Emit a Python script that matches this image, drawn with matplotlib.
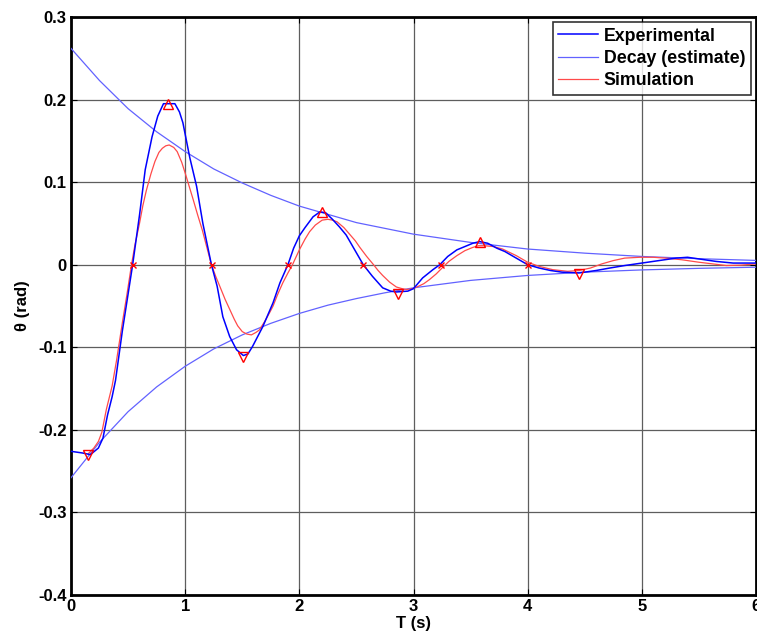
import matplotlib
matplotlib.use("Agg")
import matplotlib.pyplot as plt

# ---- data ----
exp_t = [0.0, 0.1, 0.17, 0.24, 0.28, 0.32, 0.36, 0.39, 0.45, 0.54, 0.6, 0.65, 0.71, 0.76,
         0.81, 0.91, 0.95, 0.98, 1.04, 1.10, 1.155, 1.23, 1.28, 1.33, 1.39, 1.45, 1.51, 1.55,
         1.59, 1.68, 1.77, 1.83, 1.90, 1.95, 2.0, 2.05, 2.12, 2.18, 2.23, 2.29, 2.35, 2.41,
         2.46, 2.56, 2.64, 2.73, 2.8, 2.85, 2.95, 3.0, 3.08, 3.17, 3.23, 3.3, 3.38, 3.45, 3.52,
         3.58, 3.65, 3.73, 3.8, 3.9, 4.0, 4.1, 4.2, 4.3, 4.45, 4.6, 4.72, 4.85, 5.0, 5.15, 5.3,
         5.4, 5.5, 5.65, 5.8, 6.0]
exp_v = [-0.226, -0.228, -0.23, -0.222, -0.21, -0.182, -0.16, -0.14, -0.08, 0.0, 0.06, 0.115,
         0.155, 0.18, 0.195, 0.195, 0.185, 0.172, 0.13, 0.095, 0.05, 0.0, -0.026, -0.063, -0.087,
         -0.103, -0.11, -0.108, -0.099, -0.075, -0.046, -0.022, 0.0, 0.02, 0.035, 0.045, 0.058,
         0.064, 0.063, 0.055, 0.046, 0.036, 0.024, 0.0, -0.014, -0.028, -0.032, -0.033, -0.032,
         -0.029, -0.016, -0.006, 0.0, 0.01, 0.018, 0.022, 0.026, 0.028, 0.026, 0.02, 0.016, 0.008,
         0.0, -0.004, -0.007, -0.009, -0.01, -0.007, -0.004, -0.001, 0.002, 0.005, 0.008, 0.009,
         0.007, 0.004, 0.002, 0.002]

sim_t = [0.15, 0.2, 0.24, 0.27, 0.31, 0.36, 0.4, 0.45, 0.49, 0.53, 0.56, 0.6, 0.63, 0.66, 0.7,
         0.735, 0.77, 0.8, 0.83, 0.86, 0.9, 0.93, 0.97, 1.0, 1.035, 1.07, 1.11, 1.15, 1.19, 1.23,
         1.27, 1.3, 1.35, 1.39, 1.43, 1.46, 1.5, 1.54, 1.58, 1.62, 1.65, 1.7, 1.74, 1.77, 1.81,
         1.855, 1.9, 1.94, 2.0, 2.05, 2.09, 2.14, 2.2, 2.25, 2.29, 2.33, 2.39, 2.44, 2.49, 2.53,
         2.59, 2.65, 2.69, 2.73, 2.79, 2.85, 2.9, 2.94, 2.99, 3.03, 3.09, 3.14, 3.2, 3.25, 3.31,
         3.38, 3.45, 3.52, 3.57, 3.62, 3.7, 3.78, 3.84, 3.9, 3.95, 4.0, 4.1, 4.22, 4.35, 4.45,
         4.55, 4.65, 4.75, 4.85, 4.98, 5.1, 5.21, 5.35, 5.5, 5.62, 5.74, 5.87, 6.0]
sim_v = [-0.229, -0.222, -0.214, -0.203, -0.175, -0.147, -0.115, -0.07, -0.036, 0.0, 0.024,
         0.05, 0.072, 0.09, 0.11, 0.125, 0.136, 0.141, 0.144, 0.145, 0.142, 0.137, 0.124, 0.111,
         0.095, 0.079, 0.06, 0.042, 0.021, 0.0, -0.015, -0.025, -0.042, -0.054, -0.066, -0.074,
         -0.081, -0.084, -0.085, -0.082, -0.079, -0.068, -0.058, -0.05, -0.036, -0.022, -0.01,
         0.0, 0.018, 0.031, 0.04, 0.048, 0.054, 0.055, 0.054, 0.052, 0.045, 0.037, 0.029, 0.021,
         0.01, 0.0, -0.007, -0.013, -0.021, -0.027, -0.029, -0.03, -0.029, -0.027, -0.023,
         -0.018, -0.011, -0.004, 0.004, 0.011, 0.017, 0.021, 0.023, 0.023, 0.022, 0.019, 0.015,
         0.011, 0.007, 0.003, -0.002, -0.006, -0.008, -0.007, -0.004, 0.001, 0.005, 0.008, 0.009,
         0.009, 0.008, 0.006, 0.003, 0.001, -0.001, -0.0005, 0.001]

decay_t = [0.0, 0.25, 0.5, 0.75, 1.0, 1.25, 1.5, 1.75, 2.0, 2.25, 2.5, 2.75, 3.0, 3.5, 4.0, 4.5,
           5.0, 5.5, 6.0]
decay_upper = [0.262, 0.223, 0.189, 0.161, 0.137, 0.116, 0.099, 0.084, 0.071, 0.061, 0.051,
               0.044, 0.037, 0.027, 0.019, 0.014, 0.010, 0.0073, 0.0052]
decay_lower = [-0.258, -0.215, -0.178, -0.148, -0.123, -0.102, -0.085, -0.071, -0.059, -0.049,
               -0.041, -0.034, -0.028, -0.019, -0.013, -0.009, -0.0063, -0.0044, -0.003]

peak_t = [0.85, 2.2, 3.58]
peak_v = [0.195, 0.064, 0.028]
trough_t = [0.15, 1.51, 2.86, 4.45]
trough_v = [-0.230, -0.112, -0.035, -0.011]
zero_t = [0.54, 1.235, 1.90, 2.555, 3.245, 4.0]
zero_v = [0.0, 0.0, 0.0, 0.0, 0.0, 0.0]

x_ticks = [0, 1, 2, 3, 4, 5, 6]
y_ticks = [-0.4, -0.3, -0.2, -0.1, 0, 0.1, 0.2, 0.3]
y_ticklabels = ["-0.4", "-0.3", "-0.2", "-0.1", "0", "0.1", "0.2", "0.3"]

plt.rcParams['font.family'] = ['Liberation Sans', 'DejaVu Sans']
plt.rcParams['font.weight'] = 'bold'

fig = plt.figure(figsize=(7.57, 6.37), dpi=100)
ax = fig.add_axes([71 / 757, 42 / 637, 685 / 757, 578 / 637])

ax.plot(exp_t, exp_v, color='#0000ff', lw=1.1, label='Experimental', zorder=4)
ax.plot(decay_t, decay_upper, color='#6262ff', lw=0.9, label='Decay (estimate)', zorder=3)
ax.plot(decay_t, decay_lower, color='#6262ff', lw=0.9, zorder=3)
ax.plot(sim_t, sim_v, color='#ff4a4a', lw=0.9, label='Simulation', zorder=3)

ax.plot(peak_t, peak_v, ls='none', marker='^', ms=7, mfc='none', mec='#ff0000', mew=1.0, zorder=5)
ax.plot(trough_t, trough_v, ls='none', marker='v', ms=7, mfc='none', mec='#ff0000', mew=1.0, zorder=5)
ax.plot(zero_t, zero_v, ls='none', marker='x', ms=5, mec='#ff0000', mew=1.0, zorder=5)

ax.set_xlim(0, 6)
ax.set_ylim(-0.4, 0.3)
ax.set_xticks(x_ticks)
ax.set_yticks(y_ticks)
ax.set_yticklabels(y_ticklabels)
ax.grid(True, color='#5e5e5e', lw=0.9, ls='-')
ax.set_axisbelow(True)
ax.tick_params(direction='in', length=4, width=0.8, top=True, right=True,
               labelsize=12, pad=3)
for lab in ax.get_xticklabels() + ax.get_yticklabels():
    lab.set_fontweight('bold')
for sp in ax.spines.values():
    sp.set_linewidth(2.0)
    sp.set_color('black')

ax.set_xlabel('T (s)', fontsize=12, fontweight='bold', labelpad=1)
ax.set_ylabel('θ (rad)', fontsize=12, fontweight='bold', labelpad=6)

leg = ax.legend(loc='upper right', fontsize=12.8, frameon=True, fancybox=False,
                edgecolor='black', handlelength=2.2, handletextpad=0.35,
                borderpad=0.3, labelspacing=0.3, borderaxespad=0.3)
leg.get_frame().set_linewidth(1.2)
for t in leg.get_texts():
    t.set_fontweight('bold')

fig.savefig('out.png', dpi=100)
